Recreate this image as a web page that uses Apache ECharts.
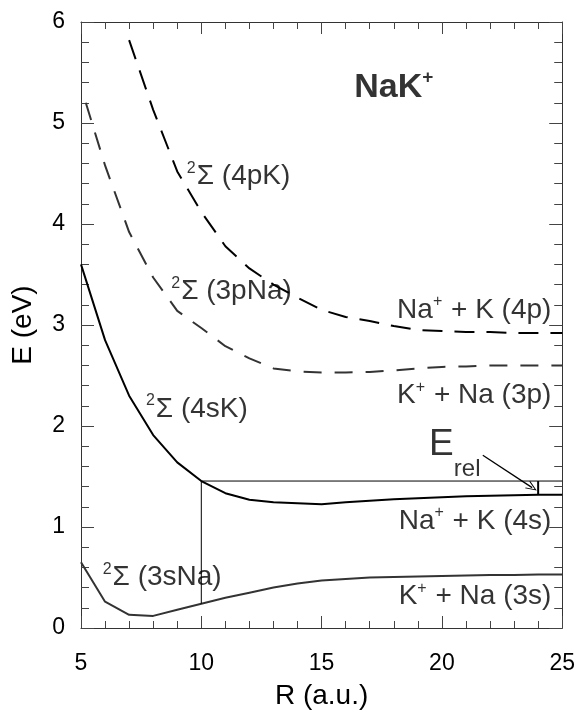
<!DOCTYPE html>
<html>
<head>
<meta charset="UTF-8">
<title>NaK+ potential curves</title>
<script src="https://cdn.jsdelivr.net/npm/echarts@6/dist/echarts.min.js"></script>
<style>
  html, body { margin: 0; padding: 0; background: #fff; }
  #chart { width: 578px; height: 715px; }
</style>
</head>
<body>
<div id="chart"></div>
<script>
// curves: R in a.u., E in eV
var r4pK = [7, 8, 9, 10, 11, 12, 13, 14, 15, 16, 17, 18, 19, 20, 21, 22, 23, 24, 25];
var e4pK = [5.82, 5.13, 4.52, 4.12, 3.78, 3.56, 3.40, 3.27, 3.15, 3.08, 3.04, 2.99, 2.95, 2.94, 2.93, 2.93, 2.92, 2.92, 2.92];

var r3pNa = [5.2, 6, 7, 8, 9, 10, 11, 12, 13, 14, 15, 16, 17, 18, 19, 20, 21, 22, 23, 24, 25];
var e3pNa = [5.2, 4.58, 3.92, 3.47, 3.14, 2.97, 2.79, 2.67, 2.57, 2.54, 2.53, 2.53, 2.535, 2.55, 2.57, 2.585, 2.59, 2.6, 2.6, 2.6, 2.6];

var r4sK = [5, 6, 7, 8, 9, 10, 11, 12, 13, 14, 15, 16, 17, 18, 19, 20, 21, 22, 23, 24, 25];
var e4sK = [3.6, 2.85, 2.3, 1.91, 1.64, 1.455, 1.335, 1.27, 1.245, 1.235, 1.225, 1.245, 1.26, 1.275, 1.285, 1.295, 1.305, 1.31, 1.315, 1.32, 1.32];

var r3sNa = [5, 6, 7, 8, 9, 10, 11, 12, 13, 14, 15, 16, 17, 18, 19, 20, 21, 22, 23, 24, 25];
var e3sNa = [0.65, 0.26, 0.13, 0.12, 0.18, 0.24, 0.30, 0.35, 0.40, 0.44, 0.47, 0.485, 0.50, 0.505, 0.51, 0.515, 0.52, 0.525, 0.525, 0.53, 0.53];

// thin guide: up from the 3sNa curve at R=10, then across at E(4sK, R=10)
var guideR = [10, 10, 25];
var guideE = [0.24, 1.455, 1.455];

// E_rel marker and arrow
var relR = [24, 24];
var relE = [1.455, 1.32];
var arrowFrom = [21.7, 1.71];
var arrowTo = [23.75, 1.39];

// text annotations: [R, E, text, align]
var labels = [
  [18.0, 5.35, '{b|NaK}{bs|+}', 'center'],
  [9.4, 4.47, '{s|2}{t|Σ (4pK)}', 'left'],
  [8.75, 3.33, '{s|2}{t|Σ (3pNa)}', 'left'],
  [7.7, 2.17, '{s|2}{t|Σ (4sK)}', 'left'],
  [5.9, 0.50, '{s|2}{t|Σ (3sNa)}', 'left'],
  [24.55, 3.15, '{t|Na}{s|+}{t| + K (4p)}', 'right'],
  [24.55, 2.30, '{t|K}{s|+}{t| + Na (3p)}', 'right'],
  [24.55, 1.06, '{t|Na}{s|+}{t| + K (4s)}', 'right'],
  [24.55, 0.31, '{t|K}{s|+}{t| + Na (3s)}', 'right'],
  [19.98, 1.81, '{E|E}', 'center'],
  [21.05, 1.57, '{r|rel}', 'center']
];

function pairs(xs, ys) {
  var out = [];
  for (var i = 0; i < xs.length; i++) out.push([xs[i], ys[i]]);
  return out;
}

var font = "'Liberation Sans', Arial, Helvetica, sans-serif";

var richStyles = {
  t: { fontSize: 28, lineHeight: 32, color: '#000', fontFamily: font },
  s: { fontSize: 16, lineHeight: 32, verticalAlign: 'top', color: '#000', fontFamily: font, padding: [0, 1, 0, 0] },
  b: { fontSize: 34, lineHeight: 38, fontWeight: 'bold', color: '#000', fontFamily: font },
  bs: { fontSize: 19, lineHeight: 38, verticalAlign: 'top', fontWeight: 'bold', color: '#000', fontFamily: font },
  E: { fontSize: 37, lineHeight: 38, color: '#000', fontFamily: font },
  r: { fontSize: 24, lineHeight: 26, color: '#000', fontFamily: font }
};

function xAxisCfg(pos, showLabels) {
  return {
    type: 'value', position: pos, min: 5, max: 25, interval: 5,
    axisLine: { show: true, onZero: false, lineStyle: { color: '#333', width: 1 } },
    axisTick: { show: true, inside: true, length: 12, lineStyle: { color: '#444' } },
    minorTick: { show: true, splitNumber: 5, length: 7, lineStyle: { color: '#444' } },
    splitLine: { show: false },
    axisLabel: { show: showLabels, fontSize: 23, color: '#000', margin: 24, fontFamily: font },
    name: showLabels ? 'R (a.u.)' : '',
    nameLocation: 'middle', nameGap: 54,
    nameTextStyle: { fontSize: 28, color: '#000', fontFamily: font }
  };
}

function yAxisCfg(pos, showLabels) {
  return {
    type: 'value', position: pos, min: 0, max: 6, interval: 1,
    axisLine: { show: true, onZero: false, lineStyle: { color: '#333', width: 1 } },
    axisTick: { show: true, inside: true, length: 13, lineStyle: { color: '#444' } },
    minorTick: { show: true, splitNumber: 5, length: 8, lineStyle: { color: '#444' } },
    splitLine: { show: false },
    axisLabel: { show: showLabels, fontSize: 23, color: '#000', margin: 16, fontFamily: font },
    name: showLabels ? 'E (eV)' : '',
    nameLocation: 'middle', nameGap: 44, nameRotate: 90,
    nameTextStyle: { fontSize: 28, color: '#000', fontFamily: font }
  };
}

var myChart = echarts.init(document.getElementById('chart'), null, { renderer: 'canvas' });

var option = {
  animation: false,
  backgroundColor: '#fff',
  grid: { left: 81, right: 11, top: 22, bottom: 85 },
  xAxis: [xAxisCfg('bottom', true), xAxisCfg('top', false)],
  yAxis: [yAxisCfg('left', true), yAxisCfg('right', false)],
  series: [
    {
      name: '4pK', type: 'line', data: pairs(r4pK, e4pK), showSymbol: false,
      lineStyle: { color: '#000', width: 2, type: [20, 12] }
    },
    {
      name: '3pNa', type: 'line', data: pairs(r3pNa, e3pNa), showSymbol: false,
      lineStyle: { color: '#333', width: 2, type: [18, 13] }
    },
    {
      name: '4sK', type: 'line', data: pairs(r4sK, e4sK), showSymbol: false,
      lineStyle: { color: '#000', width: 2 }
    },
    {
      name: '3sNa', type: 'line', data: pairs(r3sNa, e3sNa), showSymbol: false,
      lineStyle: { color: '#333', width: 2 }
    },
    {
      name: 'guide', type: 'line', data: pairs(guideR, guideE), showSymbol: false,
      lineStyle: { color: '#000', width: 1 },
      markLine: {
        silent: true, animation: false,
        label: { show: false },
        lineStyle: { color: '#000', width: 1.3, type: 'solid' },
        symbolSize: [9, 11],
        data: [[
          { coord: arrowFrom, symbol: 'none' },
          { coord: arrowTo, symbol: 'path://M5,0 L10,10 L8.8,10 L5,2.2 L1.2,10 L0,10 Z' }
        ]]
      }
    },
    {
      name: 'Erel', type: 'line', data: pairs(relR, relE), showSymbol: false,
      lineStyle: { color: '#000', width: 2 }
    },
    {
      name: 'labels', type: 'scatter', symbolSize: 0, silent: true,
      data: labels.map(function (l) {
        return {
          value: [l[0], l[1]],
          label: {
            show: true, position: 'inside', align: l[3], verticalAlign: 'middle',
            formatter: l[2], rich: richStyles
          }
        };
      })
    }
  ]
};

myChart.setOption(option);
</script>
</body>
</html>
